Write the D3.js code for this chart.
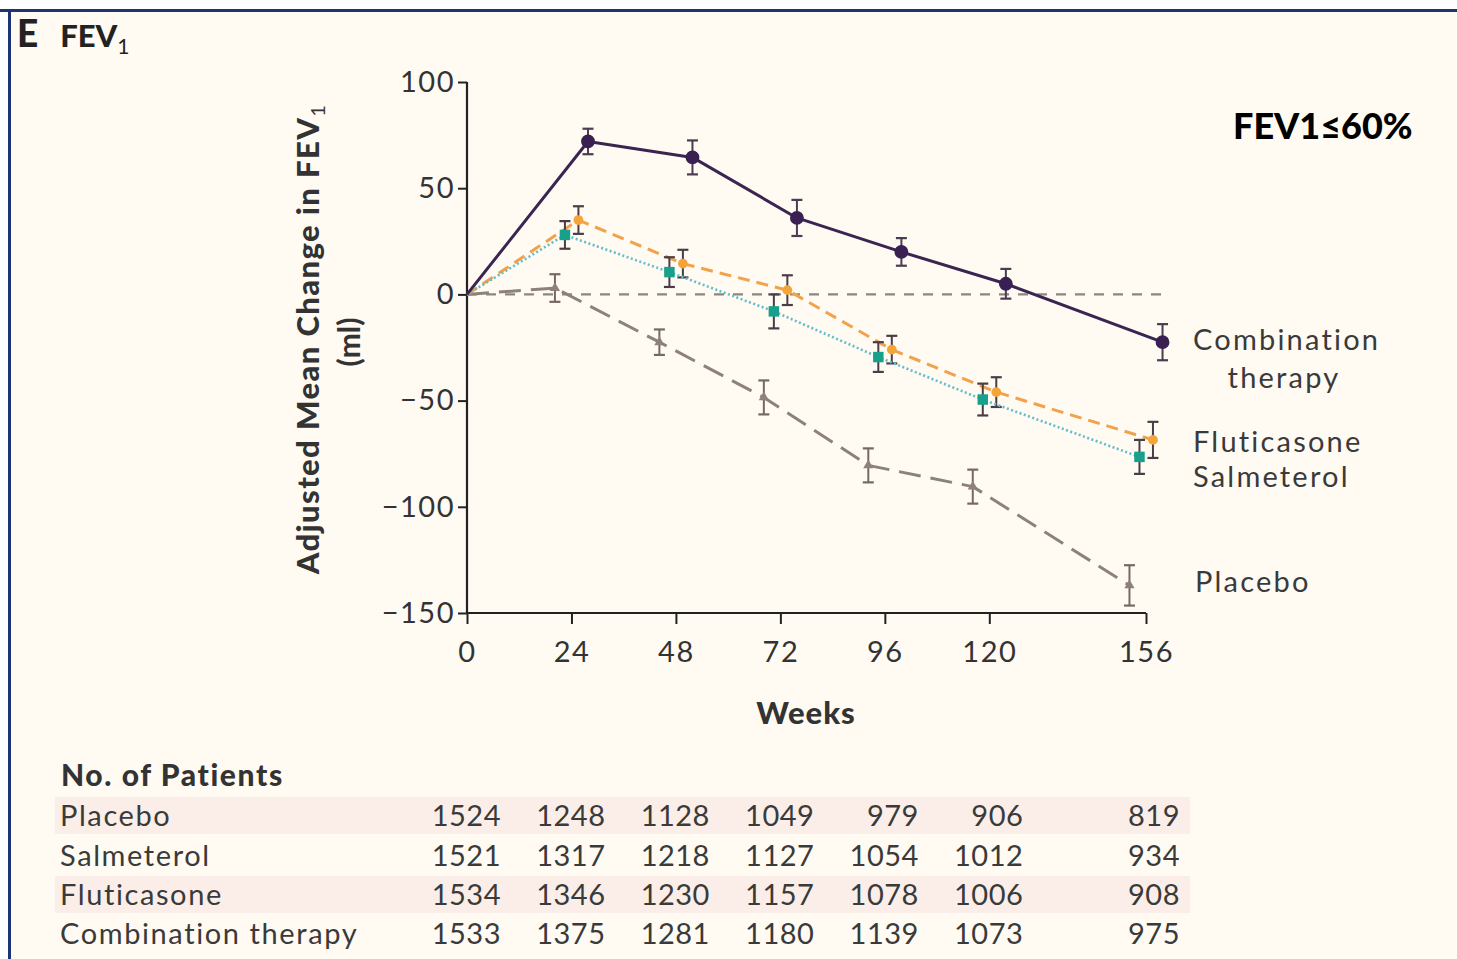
<!DOCTYPE html>
<html>
<head>
<meta charset="utf-8">
<script src="https://cdn.jsdelivr.net/npm/d3@7"></script>
<style>
  html, body { margin: 0; padding: 0; background: #ffffff; }
  svg { display: block; }
  text { font-family: Lato, "Open Sans", sans-serif; fill: #333; }
</style>
</head>
<body>
<svg id="chart" width="1457" height="959"></svg>
<script>
// Visit weeks and adjusted mean change in FEV1 (ml) per treatment group
const weeks = [0, 24, 48, 72, 96, 120, 156];
const placebo     = [0, 3, -22.5, -48.5, -80.5, -90.5, -137];
const salmeterol  = [0, 28, 10.5, -8, -29.5, -49.5, -76.5];
const fluticasone = [0, 35, 14.5, 2, -26, -46, -68.5];
const combination = [0, 72, 64.5, 36, 20, 5, -22.5];

// Half-widths of the error bars (ml)
const placeboErr     = [0, 6.5, 6, 8, 8, 8, 9.5];
const salmeterolErr  = [0, 6.5, 7, 8, 7, 7.5, 8];
const fluticasoneErr = [0, 6.5, 6.5, 7, 6.5, 7, 8.5];
const combinationErr = [0, 6, 8, 8.5, 6.5, 7, 8.5];

// Number of patients at each visit
const groupNames = ["Placebo", "Salmeterol", "Fluticasone", "Combination therapy"];
const patientsPlacebo     = [1524, 1248, 1128, 1049, 979, 906, 819];
const patientsSalmeterol  = [1521, 1317, 1218, 1127, 1054, 1012, 934];
const patientsFluticasone = [1534, 1346, 1230, 1157, 1078, 1006, 908];
const patientsCombination = [1533, 1375, 1281, 1180, 1139, 1073, 975];

const yTicks = [100, 50, 0, -50, -100, -150];

const svg = d3.select("#chart");
const W = 1457, H = 959;

// panel background and frame
svg.append("rect").attr("x", 9).attr("y", 10).attr("width", W - 9).attr("height", H - 10)
  .attr("fill", "#fffbf3");
svg.append("line").attr("x1", 0).attr("x2", W).attr("y1", 10.5).attr("y2", 10.5)
  .attr("stroke", "#1c3472").attr("stroke-width", 3);
svg.append("line").attr("x1", 9.5).attr("x2", 9.5).attr("y1", 9).attr("y2", H)
  .attr("stroke", "#1c3472").attr("stroke-width", 3);

// panel title
const title = svg.append("text").attr("x", 17).attr("y", 47)
  .style("font-weight", 900).style("fill", "#222");
title.append("tspan").style("font-size", "37px").text("E");
title.append("tspan").attr("dx", 22).style("font-size", "31px").text("FEV");
title.append("tspan").attr("dy", 7).style("font-size", "21px").style("font-weight", 400).text("1");

svg.append("text").attr("x", 1233).attr("y", 139)
  .style("font-size", "36px").style("font-weight", 900).style("fill", "#000")
  .text("FEV1≤60%");

// scales
const x = d3.scaleLinear().domain([0, 156]).range([467, 1146]);
const y = d3.scaleLinear().domain([-150, 100]).range([613, 82]);

// axes
const yAxis = svg.append("g").attr("transform", `translate(${x(0)},0)`)
  .call(d3.axisLeft(y).tickValues(yTicks).tickSize(9).tickPadding(3)
    .tickFormat(d => d < 0 ? "\u2212" + Math.abs(d) : d));
const xAxis = svg.append("g").attr("transform", `translate(0,${y(-150)})`)
  .call(d3.axisBottom(x).tickValues(weeks).tickSize(11).tickPadding(17));
[yAxis, xAxis].forEach(g => {
  g.select(".domain").attr("stroke", "#222").attr("stroke-width", 2.2);
  g.selectAll(".tick line").attr("stroke", "#222").attr("stroke-width", 2);
  g.selectAll(".tick text").style("font-size", "29px").style("fill", "#333")
    .style("letter-spacing", "1.5px").style("font-family", "Lato, sans-serif");
});
// plain domain lines without outer ticks
yAxis.select(".domain").attr("d", `M0,${y(100)}V${y(-150)}`);
xAxis.select(".domain").attr("d", `M${x(0)},0H${x(156)}`);

// axis titles
svg.append("text").attr("x", 806).attr("y", 724).attr("text-anchor", "middle")
  .style("font-size", "31px").style("font-weight", 900).style("letter-spacing", "1px").text("Weeks");

const yl = svg.append("text").attr("transform", "translate(319,339) rotate(-90)")
  .attr("text-anchor", "middle").style("font-size", "31px").style("font-weight", 900)
  .style("letter-spacing", "1.4px");
yl.append("tspan").text("Adjusted Mean Change in FEV");
yl.append("tspan").attr("dy", 6).style("font-size", "20px").style("font-weight", 400).text("1");
svg.append("text").attr("transform", "translate(360,342) rotate(-90)")
  .attr("text-anchor", "middle").style("font-size", "30px").style("font-weight", 700)
  .text("(ml)");

// zero reference line
svg.append("line").attr("x1", x(0)).attr("x2", x(160)).attr("y1", y(0)).attr("y2", y(0))
  .attr("stroke", "#8c8682").attr("stroke-width", 2.2).attr("stroke-dasharray", "10,9");

// series definitions (drawn back to front)
const series = [
  { name: "placebo", values: placebo, err: placeboErr, dodge: -3.8,
    line: "#8d817a", width: 3, dash: "22,10", fill: "#8d817a", bar: "#76695f", symbol: d3.symbolTriangle, size: 45 },
  { name: "fluticasone", values: fluticasone, err: fluticasoneErr, dodge: 1.6,
    line: "#f2a24a", width: 3, dash: "12,7", fill: "#f5a43a", bar: "#4a3d48", symbol: d3.symbolCircle, size: 75 },
  { name: "salmeterol", values: salmeterol, err: salmeterolErr, dodge: -1.5,
    line: "#62bccb", width: 2.6, dash: "2,2.5", fill: "#17a08a", bar: "#4a3d48", symbol: d3.symbolSquare, size: 110 },
  { name: "combination", values: combination, err: combinationErr, dodge: 3.8,
    line: "#3a2550", width: 3, dash: null, fill: "#3a1f52", bar: "#4b3c52", symbol: d3.symbolCircle, size: 150 }
];

series.forEach(s => {
  const pts = weeks.map((w, i) => ({
    px: x(w === 0 ? 0 : w + s.dodge), v: s.values[i], e: s.err[i]
  }));
  const line = d3.line().x(d => d.px).y(d => y(d.v));
  svg.append("path").datum(pts).attr("d", line)
    .attr("fill", "none").attr("stroke", s.line).attr("stroke-width", s.width)
    .attr("stroke-dasharray", s.dash).attr("stroke-linejoin", "round");
  const g = svg.append("g");
  const pe = pts.filter(d => d.e > 0);
  g.selectAll("line.eb").data(pe).join("line")
    .attr("x1", d => d.px).attr("x2", d => d.px)
    .attr("y1", d => y(d.v + d.e)).attr("y2", d => y(d.v - d.e))
    .attr("stroke", s.bar).attr("stroke-width", 2);
  [1, -1].forEach(sign => {
    g.selectAll(null).data(pe).join("line")
      .attr("x1", d => d.px - 5.5).attr("x2", d => d.px + 5.5)
      .attr("y1", d => y(d.v + sign * d.e)).attr("y2", d => y(d.v + sign * d.e))
      .attr("stroke", s.bar).attr("stroke-width", 2.2);
  });
  g.selectAll("path.mk").data(pe).join("path")
    .attr("transform", d => `translate(${d.px},${y(d.v)})`)
    .attr("d", d3.symbol().type(s.symbol).size(s.size))
    .attr("fill", s.fill);
});

// series labels at the right end
const labelX = 1193;
const labels = [
  { t: "Combination", v: -22.5, dy: 8, anchor: "start", x: labelX },
  { t: "therapy", v: -22.5, dy: 46, anchor: "middle", x: 1284 },
  { t: "Fluticasone", v: -68.5, dy: 12, anchor: "start", x: labelX },
  { t: "Salmeterol", v: -76.5, dy: 30, anchor: "start", x: labelX },
  { t: "Placebo", v: -137, dy: 7, anchor: "start", x: labelX + 2 }
];
svg.selectAll("text.lab").data(labels).join("text")
  .attr("x", d => d.x).attr("y", d => y(d.v) + d.dy)
  .attr("text-anchor", d => d.anchor)
  .style("font-size", "29px").style("letter-spacing", "2.2px")
  .style("fill", "#3a3a3a").text(d => d.t);

// number-at-risk table
svg.append("text").attr("x", 61).attr("y", 786)
  .style("font-size", "30px").style("font-weight", 900).style("letter-spacing", "1.6px")
  .text("No. of Patients");

const rows = [patientsPlacebo, patientsSalmeterol, patientsFluticasone, patientsCombination];
const rowY = [826, 866, 905, 944];
rows.forEach((r, i) => {
  if (i % 2 === 0) {
    svg.append("rect").attr("x", 55).attr("y", rowY[i] - 29).attr("width", 1135).attr("height", 37)
      .attr("fill", "#fbeee8");
  }
});
rows.forEach((r, i) => {
  svg.append("text").attr("x", 60).attr("y", rowY[i])
    .style("font-size", "29px").style("letter-spacing", "1.6px")
    .style("fill", "#3a3a3a").text(groupNames[i]);
  svg.selectAll(null).data(r).join("text")
    .attr("x", (d, j) => x(weeks[j]) + 34).attr("y", rowY[i])
    .attr("text-anchor", "end")
    .style("font-size", "29px").style("letter-spacing", "0.5px")
    .style("fill", "#3a3a3a").text(d => d);
});
</script>
</body>
</html>
